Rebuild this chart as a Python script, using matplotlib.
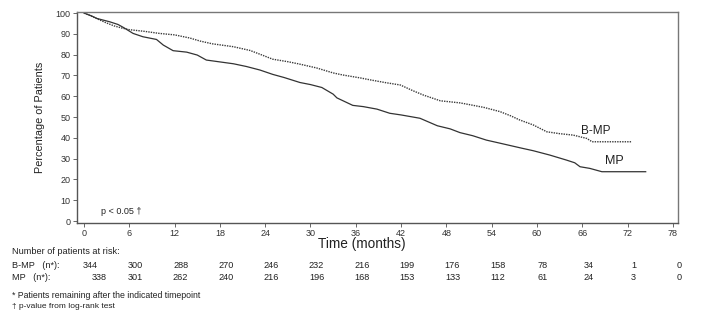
import matplotlib
matplotlib.use("Agg")
import matplotlib.pyplot as plt
import matplotlib.transforms as mtransforms

plt.rcParams['font.family'] = ['Liberation Sans', 'DejaVu Sans']

# ---- data ----
bmp_months = [0, 1, 2, 3, 4, 5, 6, 8, 10, 12, 14, 15.4, 17, 19.8, 22, 23.3, 25, 27, 28.5, 30.8,
              33, 34.3, 36.6, 38, 40, 41.9, 43.6, 45, 47.2, 49.8, 51, 53, 55.1, 56.5, 57.7,
              59.5, 61.3, 63, 64.8, 66.6, 67.3, 72.5]
bmp_pct = [100, 98.5, 96.8, 95.2, 93.8, 92.8, 92.0, 91.2, 90.2, 89.5, 88.0, 86.5, 85.2, 83.8,
           82.0, 80.2, 77.8, 76.6, 75.5, 73.6, 71.2, 70.2, 68.8, 67.8, 66.5, 65.4, 62.6, 60.5,
           57.8, 56.8, 56.0, 54.6, 52.6, 50.6, 48.6, 46.2, 42.9, 42.0, 41.3, 39.7, 38.1, 38.1]

mp_months = [0, 1, 1.7, 3.4, 4.5, 5.2, 6.5, 7.8, 9.6, 10.5, 11.8, 13.6, 15, 16.2, 18, 19.8,
             21.5, 23.3, 25, 26.5, 28.6, 30, 31.5, 33, 33.5, 35.6, 37, 38.8, 40.5, 42, 44.5,
             46.8, 48.5, 49.8, 51.5, 53.3, 55, 56.8, 58, 59.5, 61.7, 63.9, 65, 65.7, 67, 68.6, 74.4]
mp_pct = [100, 98.6, 97.4, 95.8, 94.5, 93.1, 90.2, 88.6, 87.3, 84.6, 81.9, 81.2, 79.8, 77.4,
          76.5, 75.6, 74.3, 72.6, 70.5, 69.0, 66.6, 65.6, 64.2, 61.0, 59.2, 55.6, 55.0, 53.8,
          51.8, 51.0, 49.4, 45.8, 44.3, 42.5, 41.0, 38.9, 37.5, 36.0, 35.0, 33.8, 31.7, 29.3,
          28.0, 26.1, 25.3, 23.7, 23.7]

x_ticks = [0, 6, 12, 18, 24, 30, 36, 42, 48, 54, 60, 66, 72, 78]
y_ticks = [0, 10, 20, 30, 40, 50, 60, 70, 80, 90, 100]

risk_times = [0, 6, 12, 18, 24, 30, 36, 42, 48, 54, 60, 66, 72, 78]
bmp_risk = [344, 300, 288, 270, 246, 232, 216, 199, 176, 158, 78, 34, 1, 0]
mp_risk = [338, 301, 262, 240, 216, 196, 168, 153, 133, 112, 61, 24, 3, 0]

W, H = 704, 322
fig = plt.figure(figsize=(W / 100, H / 100), dpi=100)

def fx(px):
    return px / W

def fy(py):
    return 1 - py / H

ax = fig.add_axes([fx(77), fy(223), (678 - 77) / W, (223 - 12) / H])
ax.plot(bmp_months, bmp_pct, color='#3a3a3a', lw=1.0, linestyle=(0, (1, 0.8)))
ax.plot(mp_months, mp_pct, color='#333333', lw=0.9, linestyle='-')

ax.set_xlim(-0.93, 78.68)
ax.set_ylim(-0.96, 100.5)
ax.set_xticks(x_ticks)
ax.set_yticks(y_ticks)
ax.tick_params(direction='out', length=3, width=0.7, color='#666666',
               labelsize=6.5, labelcolor='#333333', pad=1.5)
for s in ['left', 'bottom']:
    ax.spines[s].set_color('#555555')
    ax.spines[s].set_linewidth(1.0)
for s in ['top', 'right']:
    ax.spines[s].set_color('#777777')
    ax.spines[s].set_linewidth(1.0)

ax.text(67.8, 40.5, 'B-MP', fontsize=8.5, color='#222222', ha='center', va='bottom')
ax.text(70.2, 25.8, 'MP', fontsize=9, color='#222222', ha='center', va='bottom')
ax.text(2.3, 4.5, 'p < 0.05 \u2020', fontsize=6.5, color='#222222', ha='left', va='center')

fig.text(fx(40), fy(117), 'Percentage of Patients', rotation=90, fontsize=7.8,
         ha='center', va='center', color='#222222')
fig.text(fx(362), fy(244), 'Time (months)', fontsize=9.8, ha='center', va='center',
         color='#222222')

fs = 6.6
fig.text(fx(12), fy(251), 'Number of patients at risk:', fontsize=fs, ha='left',
         va='center', color='#222222')
fig.text(fx(12), fy(266), 'B-MP   (n*):', fontsize=fs, ha='left', va='center', color='#222222')
fig.text(fx(12), fy(277), 'MP   (n*):', fontsize=fs, ha='left', va='center', color='#222222')

trans = mtransforms.blended_transform_factory(ax.transData, fig.transFigure)
for t, b, m in zip(risk_times, bmp_risk, mp_risk):
    fig.text(t + 0.8, fy(266), str(b), fontsize=fs, ha='center', va='center',
             color='#222222', transform=trans)
    fig.text(t + (2.0 if t == 0 else 0.8), fy(277), str(m), fontsize=fs, ha='center',
             va='center', color='#222222', transform=trans)

fig.text(fx(12), fy(296), '* Patients remaining after the indicated timepoint', fontsize=6.3,
         ha='left', va='center', color='#222222')
fig.text(fx(12), fy(306.5), '\u2020 p-value from log-rank test', fontsize=6.0,
         ha='left', va='center', color='#222222')

fig.savefig('out.png', dpi=100)
